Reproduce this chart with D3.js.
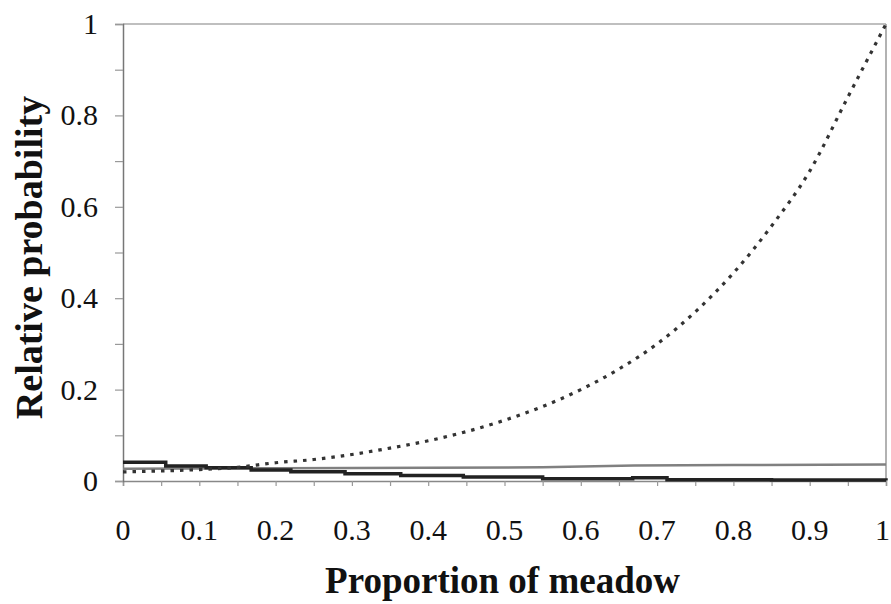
<!DOCTYPE html>
<html lang="en">
<head>
  <meta charset="UTF-8">
  <title>Relative probability vs proportion of meadow</title>
  <script src="https://d3js.org/d3.v7.min.js"></script>
  <style>
    body {
      margin: 0;
      background: #fff;
    }
    svg {
      display: block;
      font-family: "Liberation Serif", "Times New Roman", serif;
    }
    .tick-label {
      font-size: 30px;
      fill: #111;
    }
    .axis-title {
      font-size: 37px;
      font-weight: bold;
      fill: #111;
    }
  </style>
</head>
<body>
  <svg id="chart" width="891" height="604"></svg>

  <script>
    // Values
    const xTicks = [0, 0.1, 0.2, 0.3, 0.4, 0.5, 0.6, 0.7, 0.8, 0.9, 1];
    const yTicks = [0, 0.2, 0.4, 0.6, 0.8, 1];

    // dotted curve, sampled every 0.05
    const dottedX = [0, 0.05, 0.1, 0.15, 0.2, 0.25, 0.3, 0.35, 0.4, 0.45, 0.5,
                     0.55, 0.6, 0.65, 0.7, 0.75, 0.8, 0.85, 0.9, 0.95, 1];
    const dottedY = [0.020, 0.022, 0.025, 0.030, 0.040, 0.047, 0.058, 0.072, 0.088, 0.108, 0.133,
                     0.163, 0.200, 0.245, 0.300, 0.370, 0.455, 0.558, 0.678, 0.840, 1.0];

    // black step line (value holds until next x)
    const stepX = [0, 0.056, 0.109, 0.168, 0.220, 0.291, 0.364, 0.446, 0.550, 0.668, 0.713, 0.85, 1];
    const stepY = [0.041, 0.033, 0.029, 0.024, 0.020, 0.016, 0.012, 0.009, 0.005, 0.007, 0.003, 0.002, 0.001];

    // grey line, almost flat
    const greyX = [0, 0.2, 0.4, 0.55, 0.67, 0.8, 1];
    const greyY = [0.027, 0.028, 0.029, 0.030, 0.034, 0.035, 0.036];

    const svg = d3.select("#chart");
    const margin = {top: 24, right: 5, bottom: 123, left: 123};
    const width = 891 - margin.left - margin.right,
          height = 604 - margin.top - margin.bottom;

    const g = svg.append("g")
                 .attr("transform", `translate(${margin.left},${margin.top})`);

    const x = d3.scaleLinear().domain([0, 1]).range([0, width]);
    const y = d3.scaleLinear().domain([0, 1]).range([height, 0]);

    // frame: top and right borders
    g.append("line")
     .attr("x1", 0).attr("x2", width).attr("y1", 0).attr("y2", 0)
     .attr("stroke", "#aaa").attr("stroke-width", 1.5);
    g.append("line")
     .attr("x1", width).attr("x2", width).attr("y1", 0).attr("y2", height)
     .attr("stroke", "#999").attr("stroke-width", 1.5);

    // x axis: ticks every 0.05, labels every 0.1
    const xAxis = g.append("g")
      .attr("transform", `translate(0,${height})`)
      .call(d3.axisBottom(x).tickValues(d3.range(0, 1.0001, 0.05)).tickSize(5).tickFormat(""));
    xAxis.select(".domain").attr("stroke", "#888").attr("stroke-width", 1.5);
    xAxis.selectAll(".tick line").attr("stroke", "#999").attr("stroke-width", 1.2);

    // last label sits right at the page edge, so anchor it by its end
    g.selectAll(".x-label")
     .data(xTicks)
     .enter()
     .append("text")
     .attr("class", "tick-label x-label")
     .attr("x", d => d === 1 ? x(d) + 4 : x(d))
     .attr("y", height + 59)
     .attr("text-anchor", d => d === 1 ? "end" : "middle")
     .text(d => d3.format("~g")(d));

    // y axis: ticks every 0.1, labels every 0.2
    const yAxis = g.append("g")
      .call(d3.axisLeft(y).tickValues(d3.range(0, 1.0001, 0.1)).tickSize(8).tickFormat(""));
    yAxis.select(".domain").attr("stroke", "#777").attr("stroke-width", 1.5);
    yAxis.selectAll(".tick line").attr("stroke", "#999").attr("stroke-width", 1.2);

    g.selectAll(".y-label")
     .data(yTicks)
     .enter()
     .append("text")
     .attr("class", "tick-label y-label")
     .attr("x", -25)
     .attr("y", d => y(d) + 10)
     .attr("text-anchor", "end")
     .text(d => d3.format("~g")(d));

    // axis titles
    svg.append("text")
       .attr("class", "axis-title")
       .attr("x", margin.left + width / 2 - 2)
       .attr("y", 593)
       .attr("text-anchor", "middle")
       .text("Proportion of meadow");

    svg.append("text")
       .attr("class", "axis-title")
       .attr("transform", `translate(42,${margin.top + height / 2 + 5}) rotate(-90)`)
       .attr("text-anchor", "middle")
       .style("font-size", "38px")
       .text("Relative probability");

    // series
    const line = d3.line().x(d => x(d[0])).y(d => y(d[1]));

    g.append("path")
     .datum(d3.zip(greyX, greyY))
     .attr("fill", "none")
     .attr("stroke", "#808080")
     .attr("stroke-width", 2.5)
     .attr("d", line);

    g.append("path")
     .datum(d3.zip(stepX, stepY))
     .attr("fill", "none")
     .attr("stroke", "#222")
     .attr("stroke-width", 3.5)
     .attr("d", line.curve(d3.curveStepAfter));

    g.append("path")
     .datum(d3.zip(dottedX, dottedY))
     .attr("fill", "none")
     .attr("stroke", "#333")
     .attr("stroke-width", 3.2)
     .attr("stroke-dasharray", "3.5,6")
     .attr("d", d3.line().x(d => x(d[0])).y(d => y(d[1])).curve(d3.curveMonotoneX));
  </script>
</body>
</html>
